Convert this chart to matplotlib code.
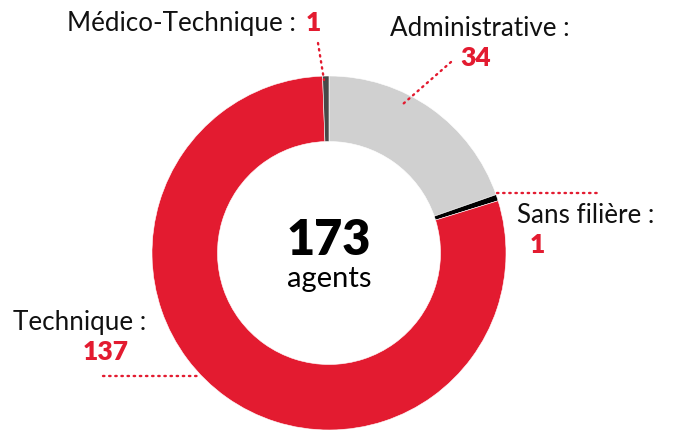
import matplotlib
matplotlib.use("Agg")
import matplotlib.pyplot as plt

# data
categories = ["Administrative", "Sans filière", "Technique", "Médico-Technique"]
values = [34, 1, 137, 1]
colors = ["#D0D0D0", "#000000", "#E31B30", "#484848"]
total = sum(values)

RED = "#E31B30"
TXT = "#111111"
W, H = 676, 432

plt.rcParams["font.family"] = ["Lato", "DejaVu Sans"]

fig = plt.figure(figsize=(W / 100, H / 100), dpi=100)
ax = fig.add_axes([0, 0, 1, 1])

cx, cy, r = 329, H - 253, 177
ax.pie(values, colors=colors, startangle=90, counterclock=False,
       center=(cx, cy), radius=r, frame=True,
       wedgeprops=dict(width=r * 0.37, edgecolor="white", linewidth=0.4))
ax.set_xlim(0, W)
ax.set_ylim(0, H)
ax.set_aspect("auto")
ax.axis("off")


def y(p):
    return H - p


lab = dict(fontsize=18.7, color=TXT, va="baseline", ha="left")
num = dict(fontsize=19, color=RED, fontweight="heavy", va="baseline", ha="left")

# Médico-Technique
ax.text(67, y(31), "Médico-Technique :", **lab)
ax.text(306, y(31), str(values[3]), **num)
# Administrative
ax.text(390, y(36), "Administrative :", **lab)
ax.text(460, y(66), str(values[0]), **num)
# Sans filière
ax.text(517, y(223), "Sans filière :", **lab)
ax.text(530, y(253), str(values[1]), **num)
# Technique
ax.text(13, y(330), "Technique :", **lab)
ax.text(83, y(360), str(values[2]), **num)

dots = dict(color=RED, lw=1.7, linestyle=(0, (0.6, 2.0)), dash_capstyle="round")
ax.plot([318, 324], [y(43), y(80)], **dots)
ax.plot([451, 403], [y(62), y(104)], **dots)
ax.plot([497, 598], [y(193), y(193)], **dots)
ax.plot([103, 198], [y(376), y(376)], **dots)

# centre
ax.text(cx, y(255), str(total), fontsize=35, fontweight="heavy", color="black",
        ha="center", va="baseline")
ax.text(cx, y(287), "agents", fontsize=21, color="black", ha="center", va="baseline")

fig.savefig("out.png", dpi=100)
